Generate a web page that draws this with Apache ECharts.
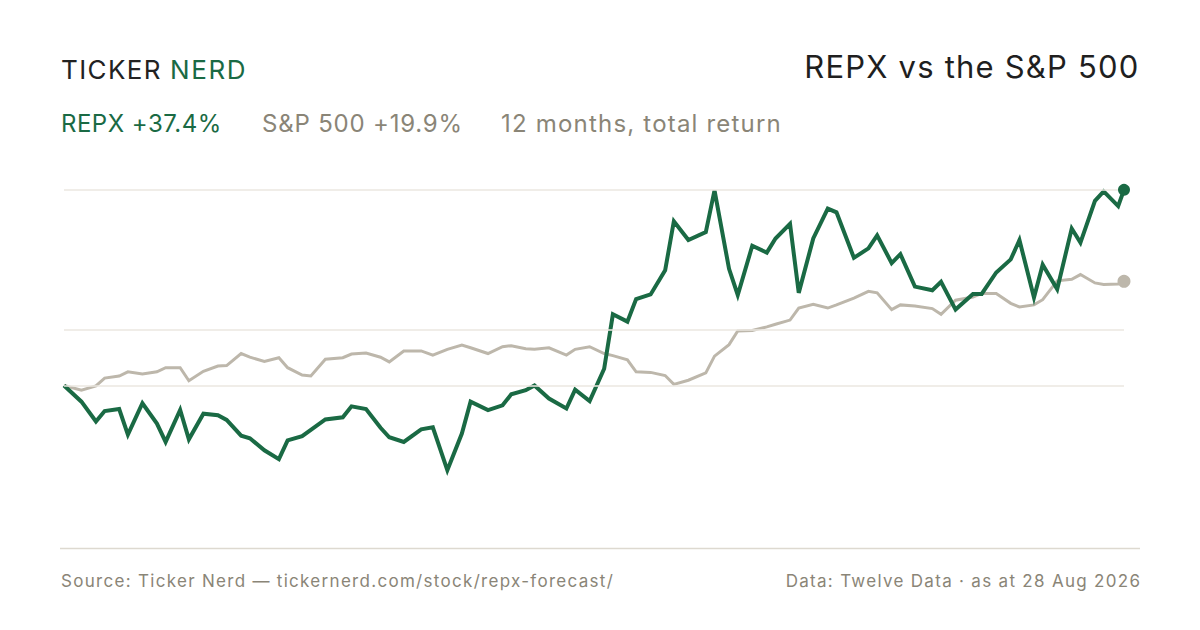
<!DOCTYPE html>
<html>
<head>
<meta charset="utf-8">
<script src="https://cdn.jsdelivr.net/npm/echarts@6/dist/echarts.min.js"></script>
<style>
html,body{margin:0;padding:0;background:#fff;}
#c{width:1200px;height:630px;}
</style>
</head>
<body>
<div id="c"></div>
<script>
// Every 3rd trading day, 28 Aug 2025 – 28 Aug 2026
var dates = [
 '2025-08-28','2025-09-03','2025-09-08','2025-09-11','2025-09-16','2025-09-19','2025-09-24','2025-09-29',
 '2025-10-02','2025-10-07','2025-10-10','2025-10-15','2025-10-20','2025-10-23','2025-10-28','2025-10-31',
 '2025-11-05','2025-11-10','2025-11-13','2025-11-18','2025-11-21','2025-11-26','2025-12-02','2025-12-05',
 '2025-12-10','2025-12-15','2025-12-18','2025-12-23','2025-12-29','2026-01-02','2026-01-07','2026-01-12',
 '2026-01-15','2026-01-21','2026-01-26','2026-01-29','2026-02-03','2026-02-06','2026-02-11','2026-02-17',
 '2026-02-20','2026-02-25','2026-03-02','2026-03-05','2026-03-10','2026-03-13','2026-03-18','2026-03-23',
 '2026-03-26','2026-03-31','2026-04-06','2026-04-09','2026-04-14','2026-04-17','2026-04-22','2026-04-27',
 '2026-04-30','2026-05-05','2026-05-08','2026-05-13','2026-05-18','2026-05-21','2026-05-27','2026-06-01',
 '2026-06-04','2026-06-09','2026-06-12','2026-06-17','2026-06-23','2026-06-26','2026-07-01','2026-07-07',
 '2026-07-10','2026-07-15','2026-07-20','2026-07-23','2026-07-28','2026-07-31','2026-08-05','2026-08-10',
 '2026-08-13','2026-08-18','2026-08-21','2026-08-26','2026-08-28'
];
// cumulative total return, %
var repx = [
 0,-3.1,-6.9,-4.9,-4.5,-9.4,-3.4,-7.3,
 -10.8,-4.7,-10.3,-5.4,-5.7,-6.6,-9.6,-10.1,
 -12.4,-14.1,-10.5,-9.7,-8.5,-6.5,-6.1,-4.0,
 -4.5,-8.1,-9.9,-10.8,-8.4,-8.0,-16.2,-9.2,
 -3.1,-4.7,-3.8,-1.7,-0.9,0.0,-2.5,-4.4,
 -0.8,-3.0,3.2,13.6,12.2,16.5,17.4,22.0,
 31.4,27.8,29.3,37.3,22.3,17.3,26.7,25.4,
 28.1,30.9,17.7,28.1,33.8,33.1,24.4,26.2,
 28.7,23.4,25.1,18.9,18.2,19.8,14.5,17.5,
 17.5,21.6,24.1,27.8,16.8,23.1,18.4,30.0,
 27.3,35.3,37.1,34.3,37.4
];
var spx = [
 0,-0.9,-0.1,1.4,1.8,2.6,2.2,2.6,
 3.4,3.4,0.9,2.7,3.7,3.8,6.1,5.4,
 4.6,5.3,3.4,2.0,1.8,5.0,5.3,6.0,
 6.2,5.4,4.5,6.6,6.6,5.8,6.9,7.7,
 7.2,6.1,7.4,7.6,7.0,6.9,7.2,5.8,
 6.9,7.4,6.1,5.7,4.9,2.6,2.5,1.9,
 0.2,1.0,2.4,5.6,7.8,10.4,10.5,11.2,
 11.7,12.5,14.8,15.5,14.8,15.4,16.7,18.0,
 17.7,14.5,15.4,15.2,14.7,13.6,16.3,16.9,
 17.6,17.6,15.7,15.0,15.4,16.4,20.0,20.3,
 21.2,19.6,19.3,19.4,19.9
];
var gridValues = [0, 10.6, 37.4];
var seriesNames = ['REPX', 'S&P 500'];

var GREEN = '#1a6a44', SAND = '#bdb7ab', GREY = '#8a8577';
function pairs(vals){ return vals.map(function(v,i){ return [dates[i], v]; }); }
var last = dates.length - 1;
var FONT = 'Inter, "Liberation Sans", Arial, sans-serif';

var texts = {
  logo1: 'TICKER', logo2: 'NERD',
  title: seriesNames[0] + ' vs the ' + seriesNames[1],
  sub1: seriesNames[0] + ' +37.4%', sub2: seriesNames[1] + ' +19.9%', sub3: '12 months, total return',
  srcL: 'Source: Ticker Nerd \u2014 tickernerd.com/stock/repx-forecast/',
  srcR: 'Data: Twelve Data \u00b7 as at 28 Aug 2026'
};
var spacing = {};
spacing[texts.logo1] = 1.4; spacing[texts.logo2] = 1.6; spacing[texts.title] = 1.2;
spacing[texts.sub1] = 0.5; spacing[texts.sub2] = 0.8; spacing[texts.sub3] = 1.2;
spacing[texts.srcL] = 1.3; spacing[texts.srcR] = 1.3;

function txt(x, y, s, size, fill, align){
  return {type:'text', x:x, y:y, silent:true,
    style:{text:s, font:'400 '+size+'px '+FONT, fill:fill, textAlign:align||'left', textVerticalAlign:'middle'}};
}

var chart = echarts.init(document.getElementById('c'), null, {renderer:'svg'});
chart.setOption({
  animation:false,
  backgroundColor:'#ffffff',
  grid:{left:64, right:76, top:171, height:376.6},
  xAxis:{type:'time', min:dates[0], max:dates[last], show:false},
  yAxis:{type:'value', min:-31, max:41, show:false},
  series:[
    {type:'line', data:[], z:1, silent:true,
     markLine:{silent:true, symbol:'none', label:{show:false},
       lineStyle:{color:'#ebe7e1', width:1.5, type:'solid'},
       data:gridValues.map(function(v){return {yAxis:v};})}},
    {name:seriesNames[1], type:'line', data:pairs(spx), symbol:'none', z:2, silent:true,
     lineStyle:{color:SAND, width:3, join:'miter'}, itemStyle:{color:SAND}},
    {name:seriesNames[0], type:'line', data:pairs(repx), symbol:'none', z:3, silent:true,
     lineStyle:{color:GREEN, width:4, join:'miter'}, itemStyle:{color:GREEN}},
    {type:'scatter', data:[[dates[last], spx[last]]], symbolSize:13, z:4, silent:true, itemStyle:{color:SAND, opacity:1}},
    {type:'scatter', data:[[dates[last], repx[last]]], symbolSize:12, z:5, silent:true, itemStyle:{color:GREEN, opacity:1}}
  ],
  graphic:[
    txt(61, 69.6, texts.logo1, 26, '#222222'),
    txt(170, 69.6, texts.logo2, 26, GREEN),
    txt(1139.5, 66.2, texts.title, 31, '#1f1f1f', 'right'),
    txt(61, 123, texts.sub1, 24, GREEN),
    txt(262, 123, texts.sub2, 24, GREY),
    txt(501, 123, texts.sub3, 24, GREY),
    {type:'line', silent:true, shape:{x1:60, y1:548.5, x2:1140, y2:548.5}, style:{stroke:'#ddd9d0', lineWidth:1.5}},
    txt(61, 580.5, texts.srcL, 17, GREY),
    txt(1141.3, 580.5, texts.srcR, 17, GREY, 'right')
  ]
});
function applySpacing(){
  var nodes = document.querySelectorAll('#c text');
  nodes.forEach(function(n){
    var s = spacing[n.textContent];
    if (s != null) n.style.letterSpacing = s + 'px';
  });
}
applySpacing();
chart.on('finished', applySpacing);
</script>
</body>
</html>
